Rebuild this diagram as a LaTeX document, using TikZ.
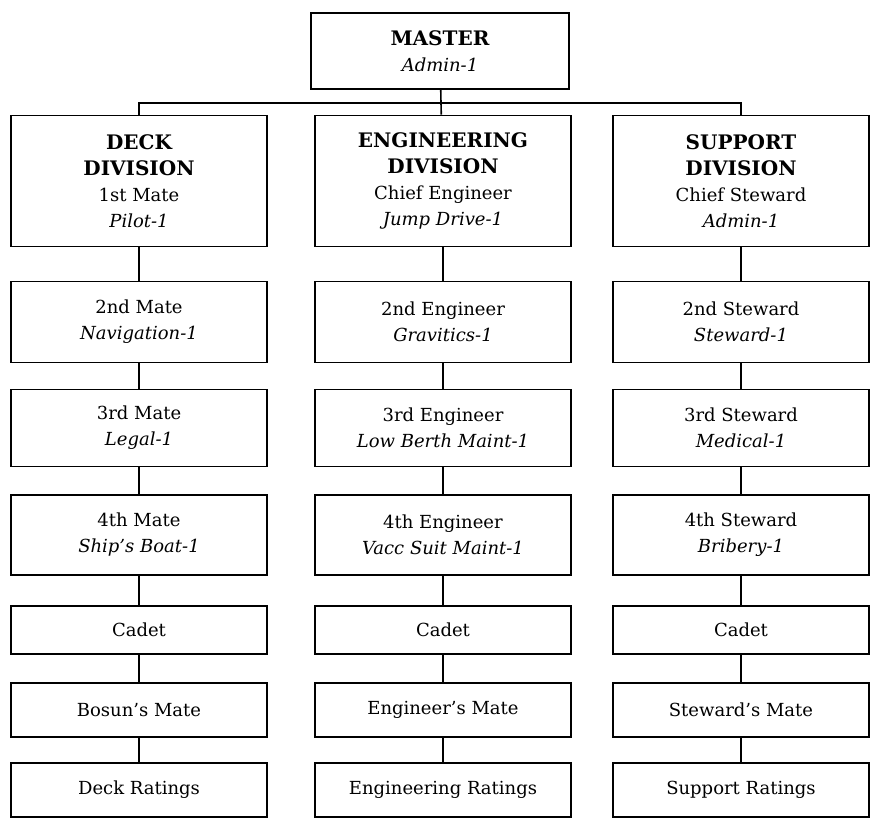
\documentclass[tikz,border=0pt]{standalone}
\usepackage{fontspec}
\setmainfont{DejaVu Serif}
\newcommand{\hd}[1]{{\fontsize{20}{26.5}\selectfont\bfseries #1}}
\newcommand{\skill}[1]{\textit{#1}}
\tikzset{
	post/.style={draw,line width=1.6pt,minimum width=256pt,inner sep=0pt,align=center,font=\fontsize{18}{26}\selectfont},
}
\begin{document}
\begin{tikzpicture}[x=1pt,y=-1pt,line width=1.6pt]
		\useasboundingbox (0,0) rectangle (871,819);
		% top of the chain
		\node[post,minimum width=258pt,minimum height=76pt] (master) at (440,51) {\hd{MASTER}\\\skill{Admin-1}};
		\coordinate (bus) at (441,103);
		% divisions
		\node[post,minimum height=131pt] (d1) at (139,181) {\hd{DECK}\\\hd{DIVISION}\\1st Mate\\\skill{Pilot-1}};
		\node[post,minimum height=131pt] (e1) at (443,181) {\hd{ENGINEERING}\\\hd{DIVISION}\\Chief Engineer\\\skill{Jump Drive-1}};
		\node[post,minimum height=131pt] (s1) at (741,181) {\hd{SUPPORT}\\\hd{DIVISION}\\Chief Steward\\\skill{Admin-1}};
		% officers
		\node[post,minimum height=81pt] (d2) at (139,322) {2nd Mate\\\skill{Navigation-1}};
		\node[post,minimum height=81pt] (e2) at (443,322) {2nd Engineer\\\skill{Gravitics-1}};
		\node[post,minimum height=81pt] (s2) at (741,322) {2nd Steward\\\skill{Steward-1}};
		\node[post,minimum height=77pt] (d3) at (139,428) {3rd Mate\\\skill{Legal-1}};
		\node[post,minimum height=77pt] (e3) at (443,428) {3rd Engineer\\\skill{Low Berth Maint-1}};
		\node[post,minimum height=77pt] (s3) at (741,428) {3rd Steward\\\skill{Medical-1}};
		\node[post,minimum height=80pt] (d4) at (139,535) {4th Mate\\\skill{Ship's Boat-1}};
		\node[post,minimum height=80pt] (e4) at (443,535) {4th Engineer\\\skill{Vacc Suit Maint-1}};
		\node[post,minimum height=80pt] (s4) at (741,535) {4th Steward\\\skill{Bribery-1}};
		% juniors and ratings
		\node[post,minimum height=48pt] (d5) at (139,630) {Cadet};
		\node[post,minimum height=48pt] (e5) at (443,630) {Cadet};
		\node[post,minimum height=48pt] (s5) at (741,630) {Cadet};
		\node[post,minimum height=54pt] (d6) at (139,710) {Bosun's Mate};
		\node[post,minimum height=54pt] (e6) at (443,710) {Engineer's Mate};
		\node[post,minimum height=54pt] (s6) at (741,710) {Steward's Mate};
		\node[post,minimum height=54pt] (d7) at (139,790) {Deck Ratings};
		\node[post,minimum height=54pt] (e7) at (443,790) {Engineering Ratings};
		\node[post,minimum height=54pt] (s7) at (741,790) {Support Ratings};
		% connectors
		\draw (master) -- (bus);
		\draw (d1) |- (bus) -| (s1);
		\draw (bus) -- (e1);
		\draw (d1) -- (d2) (d2) -- (d3) (d3) -- (d4) (d4) -- (d5) (d5) -- (d6) (d6) -- (d7);
		\draw (e1) -- (e2) (e2) -- (e3) (e3) -- (e4) (e4) -- (e5) (e5) -- (e6) (e6) -- (e7);
		\draw (s1) -- (s2) (s2) -- (s3) (s3) -- (s4) (s4) -- (s5) (s5) -- (s6) (s6) -- (s7);
\end{tikzpicture}
\end{document}
